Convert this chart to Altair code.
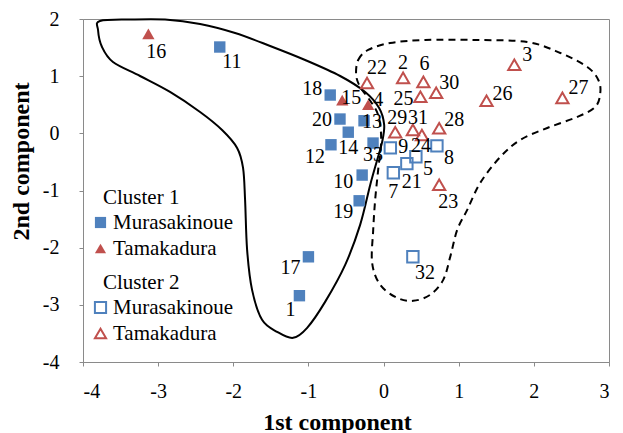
import altair as alt
import pandas as pd

# ---- data ----
point_id = list(range(1, 34))
pc1 = [-1.12, 0.26, 1.74, -0.205, 0.43, 0.53, 0.13, 0.71, 0.09, -0.285,
       -2.18, -0.70, -0.26, -0.47, -0.55, -3.13, -1.00, -0.71, -0.325, -0.58,
       0.31, -0.22, 0.74, 0.51, 0.49, 1.37, 2.38, 0.74, 0.155, 0.70,
       0.39, 0.39, -0.14]
pc2 = [-2.84, 0.97, 1.20, 0.50, -0.41, 0.90, -0.69, -0.22, -0.255, -0.73,
       1.51, -0.20, 0.22, 0.02, 0.58, 1.74, -2.16, 0.67, -1.18, 0.25,
       -0.53, 0.88, -0.90, -0.03, 0.64, 0.57, 0.62, 0.09, 0.02, 0.71,
       0.06, -2.16, -0.17]
cluster = ["Cluster 1", "Cluster 2", "Cluster 2", "Cluster 1", "Cluster 2", "Cluster 2",
           "Cluster 2", "Cluster 2", "Cluster 2", "Cluster 1", "Cluster 1", "Cluster 1",
           "Cluster 1", "Cluster 1", "Cluster 1", "Cluster 1", "Cluster 1", "Cluster 1",
           "Cluster 1", "Cluster 1", "Cluster 2", "Cluster 2", "Cluster 2", "Cluster 2",
           "Cluster 2", "Cluster 2", "Cluster 2", "Cluster 2", "Cluster 2", "Cluster 2",
           "Cluster 2", "Cluster 2", "Cluster 1"]
variety = ["Murasakinoue", "Tamakadura", "Tamakadura", "Tamakadura", "Murasakinoue",
           "Tamakadura", "Murasakinoue", "Murasakinoue", "Murasakinoue", "Murasakinoue",
           "Murasakinoue", "Murasakinoue", "Murasakinoue", "Murasakinoue", "Tamakadura",
           "Tamakadura", "Murasakinoue", "Murasakinoue", "Murasakinoue", "Murasakinoue",
           "Murasakinoue", "Tamakadura", "Tamakadura", "Tamakadura", "Tamakadura",
           "Tamakadura", "Tamakadura", "Tamakadura", "Tamakadura", "Tamakadura",
           "Tamakadura", "Murasakinoue", "Murasakinoue"]

# cluster outlines (hand-drawn enclosures), data units
solid_x = [-3.774, -3.374, -2.908, -2.442, -1.976, -1.510, -1.044, -0.578, -0.245, -0.059,
           0.008, -0.019, -0.085, -0.178, -0.312, -0.511, -0.778, -1.017, -1.204, -1.417,
           -1.617, -1.750, -1.816, -1.843, -1.870, -1.949, -2.149, -2.442, -2.842, -3.241,
           -3.601, -3.747, -3.800]
solid_y = [1.965, 1.991, 1.991, 1.913, 1.755, 1.528, 1.283, 1.003, 0.724, 0.444,
           0.147, -0.150, -0.465, -0.902, -1.601, -2.301, -2.948, -3.402, -3.577, -3.472,
           -3.262, -2.738, -2.038, -1.164, -0.605, -0.255, 0.059, 0.374, 0.724, 1.003,
           1.248, 1.510, 1.808]
dash_x = [-0.365, -0.338, -0.205, 0.088, 0.554, 1.220, 1.912, 2.352, 2.711, 2.858,
          2.884, 2.818, 2.578, 2.178, 1.819, 1.553, 1.286, 1.113, 0.980, 0.887,
          0.794, 0.620, 0.394, 0.181, -0.045, -0.152, -0.138, -0.112, -0.072, -0.032,
          -0.072, -0.205, -0.312]
dash_y = [1.021, 1.283, 1.458, 1.580, 1.633, 1.633, 1.598, 1.406, 1.161, 0.934,
          0.706, 0.462, 0.287, 0.094, -0.115, -0.413, -0.867, -1.339, -1.689, -2.161,
          -2.563, -2.825, -2.930, -2.878, -2.650, -2.266, -1.689, -1.164, -0.640, -0.115,
          0.322, 0.619, 0.811]

# ---- style: label nudges in pixels ----
label_dx = [-9, 0, 13, 10, 12, 1, 0, 12, 13, -19, 12, -16, 8, 0, 9, 8, -18, -18, -16, -18,
            5, 10, 9, -1, -17, 16, 16, 15, 2, 13, 5, 12, 0]
label_dy = [14, -15, -10, -5, 12, -18, 19, 12, -1, 7, 15, 12, 1, 16, -2, 18, 11, -6, 11, 1,
            18, -15, 17, 11, 2, -7, -10, -8, -14, -10, -12, 16, 12]

W, H = 526, 343
X_DOM, Y_DOM = [-4, 3], [-4, 2]
ppx = W / (X_DOM[1] - X_DOM[0])
ppy = H / (Y_DOM[1] - Y_DOM[0])

FONT = "Liberation Serif"
BLUE, RED = "#4F81BD", "#C0504D"
FRAME = "#8a8a8a"

df = pd.DataFrame(dict(id=point_id, pc1=pc1, pc2=pc2, cluster=cluster, variety=variety,
                       dx=label_dx, dy=label_dy))
df["lx"] = df["pc1"] + df["dx"] / ppx
df["ly"] = df["pc2"] - df["dy"] / ppy
df["label"] = df["id"].astype(str)

solid = pd.DataFrame(dict(i=range(len(solid_x)), x=solid_x, y=solid_y))
dash = pd.DataFrame(dict(i=range(len(dash_x)), x=dash_x, y=dash_y))

xs = alt.Scale(domain=X_DOM, nice=False, zero=False)
ys = alt.Scale(domain=Y_DOM, nice=False, zero=False)

axis_common = dict(labelExpr="'' + datum.value", grid=False, tickSize=4,
                   domainColor=FRAME, tickColor=FRAME,
                   labelFont=FONT, labelFontSize=20, labelColor="black",
                   titleFont=FONT, titleFontSize=24, titleFontWeight="bold", titleColor="black",
                   titleBaseline="middle", titleAlign="center")
x_axis = alt.Axis(values=list(range(-4, 4)), title="1st component", labelPadding=15,
                  titleX=254, titleY=60, **axis_common)
y_axis = alt.Axis(values=list(range(-4, 3)), title="2nd component", labelPadding=20,
                  titleX=-62, titleY=142, titleAngle=270, **axis_common)


def X(field):
    return alt.X(field, type="quantitative", scale=xs, axis=x_axis)


def Y(field):
    return alt.Y(field, type="quantitative", scale=ys, axis=y_axis)


solid_line = alt.Chart(solid).mark_line(
    interpolate="cardinal-closed", color="black", strokeWidth=2
).encode(x=X("x"), y=Y("y"), order="i:Q")

dash_line = alt.Chart(dash).mark_line(
    interpolate="cardinal-closed", color="black", strokeWidth=2, strokeDash=[7, 5]
).encode(x=X("x"), y=Y("y"), order="i:Q")

vdom = ["Murasakinoue", "Tamakadura"]
size_enc = alt.Size("variety:N", scale=alt.Scale(domain=vdom, range=[130, 150]), legend=None)

legend_common = dict(orient="none", legendX=20, padding=0,
                     labelFont=FONT, labelFontSize=21, labelColor="black",
                     titleFont=FONT, titleFontSize=21, titleFontWeight="normal",
                     titleColor="black", symbolSize=125, rowPadding=4, titlePadding=4,
                     symbolOffset=-13, labelOffset=2)


def legend(title, y, **kw):
    return alt.Legend(title=title, legendY=y, **legend_common, **kw)


c1 = alt.Chart(df[df["cluster"] == "Cluster 1"]).mark_point(filled=True, opacity=1).encode(
    x=X("pc1"), y=Y("pc2"),
    color=alt.Color("variety:N", scale=alt.Scale(domain=vdom, range=[BLUE, RED]),
                    legend=legend("Cluster 1", 168)),
    shape=alt.Shape("variety:N", scale=alt.Scale(domain=vdom, range=["square", "triangle-up"]),
                    legend=legend("Cluster 1", 168)),
    size=size_enc,
)

c2 = alt.Chart(df[df["cluster"] == "Cluster 2"]).mark_point(
    filled=False, opacity=1, strokeWidth=2
).encode(
    x=X("pc1"), y=Y("pc2"),
    color=alt.Color("variety:N", scale=alt.Scale(domain=vdom, range=[BLUE, RED]),
                    legend=legend("Cluster 2", 253, symbolStrokeWidth=2)),
    shape=alt.Shape("variety:N", scale=alt.Scale(domain=vdom, range=["square", "triangle-up"]),
                    legend=legend("Cluster 2", 253, symbolStrokeWidth=2)),
    size=size_enc,
)

labels = alt.Chart(df).mark_text(font=FONT, fontSize=20, color="black",
                                 align="center", baseline="middle").encode(
    x=X("lx"), y=Y("ly"), text="label:N"
)

chart = alt.layer(solid_line, dash_line, c1, c2, labels).resolve_scale(
    color="independent", shape="independent"
).properties(
    width=W, height=H,
    autosize=alt.AutoSizeParams(type="none"),
    padding={"left": 75, "top": 11, "right": 6, "bottom": 72},
).configure_view(
    stroke=FRAME, strokeWidth=1
)

chart.save("out.html", embed_options={"renderer": "svg", "actions": False})
